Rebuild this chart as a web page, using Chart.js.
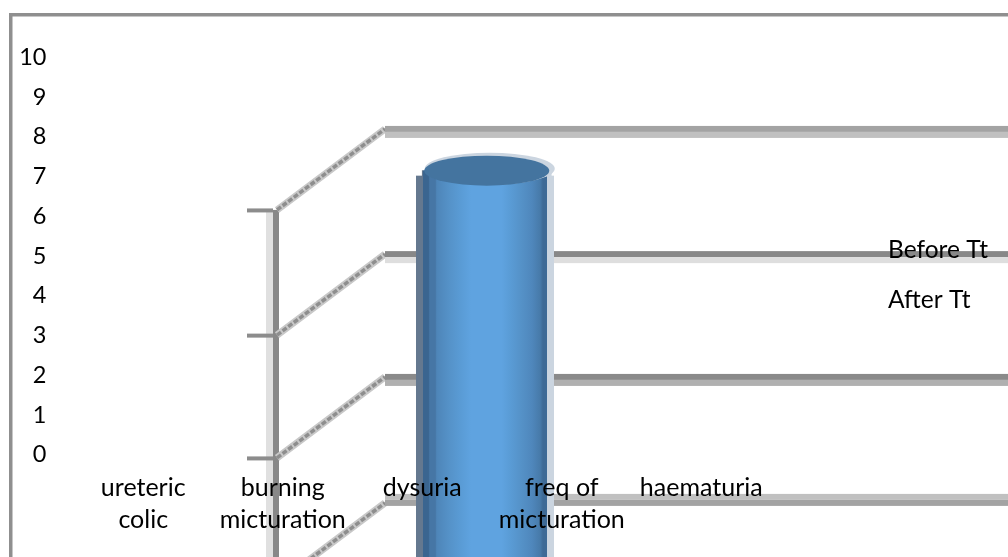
<!DOCTYPE html>
<html>
<head>
<meta charset="utf-8">
<style>html,body{margin:0;padding:0;background:#fff;overflow:hidden}canvas{display:block}</style>
<script src="https://cdn.jsdelivr.net/npm/chart.js@4/dist/chart.umd.min.js"></script>
</head>
<body>
<canvas id="c" width="1008" height="557"></canvas>
<script>
const categories = [["ureteric","colic"],["burning","micturation"],"dysuria",["freq of","micturation"],"haematuria"];
const beforeTt = [null,null,null,null,null];
const afterTt = [null,null,7.15,null,null];
const yTicks = [0,1,2,3,4,5,6,7,8,9,10];
const wallGridValues = [8.2,5.05,1.96,-1.21];

const FONT = 'Lato';
const gridStyles = [
  {dark:'#A3A3A3',pale:'#C0C0C0',paleOff:1},
  {dark:'#888888',pale:'#DEDEDE',paleOff:1},
  {dark:'#8A8A8A',pale:'#B0B0B0',paleOff:1},
  {dark:'#A3A3A3',pale:'#C0C0C0',paleOff:-1}
];
function cylGradient(ctx){
  const g = ctx.createLinearGradient(416,0,554,0);
  const stops = [[0,'#64788F'],[.05,'#64788F'],[.051,'#3A6590'],[.09,'#3A6590'],[.10,'#4676A5'],[.14,'#4676A5'],
    [.15,'#4E85B8'],[.24,'#5592C8'],[.33,'#5A9CD6'],[.40,'#5FA3E0'],[.62,'#5FA3E0'],[.68,'#5A9CD6'],[.76,'#5592C8'],
    [.84,'#4F87BC'],[.90,'#477AA9'],[.92,'#3E6A96'],[.95,'#3E6A96'],[.951,'#CBD5E0'],[1,'#CBD5E0']];
  stops.forEach(s=>g.addColorStop(s[0],s[1]));
  return g;
}
const scene = {
  id:'scene',
  beforeDatasetsDraw(chart){
    const c = chart.ctx, y = chart.scales.y, H = chart.height, W = chart.width;
    c.save();
    const topFront = y.getPixelForValue(wallGridValues[0]) + 81;
    c.fillStyle='#E0E0E0'; c.fillRect(266,topFront,7,H-topFront);
    c.fillStyle='#888888'; c.fillRect(273,topFront,6,H-topFront);
    wallGridValues.forEach((v,i)=>{
      const py = y.getPixelForValue(v), s = gridStyles[i];
      const fy = py + 81;
      c.lineCap='butt';
      c.strokeStyle='#C8C8C8'; c.lineWidth=7;
      c.beginPath(); c.moveTo(277,fy); c.lineTo(385,py); c.stroke();
      c.strokeStyle='#8E8E8E'; c.lineWidth=3.5;
      c.setLineDash([5,2]);
      c.beginPath(); c.moveTo(277,fy); c.lineTo(385,py); c.stroke();
      c.setLineDash([]);
      c.fillStyle='#8C8C8C'; c.fillRect(247,fy-1.5,26,4);
      c.fillStyle=s.dark; c.fillRect(385,py-3,W-385,6);
      c.fillStyle=s.pale; c.fillRect(385,s.paleOff>0?py+3:py-9,W-385,6);
    });
    const bar = chart.getDatasetMeta(1).data[2];
    c.fillStyle = cylGradient(c);
    c.fillRect(416,bar.y+5,138,H-bar.y);
    c.restore();
  },
  afterDatasetsDraw(chart){
    const c = chart.ctx;
    const bar = chart.getDatasetMeta(1).data[2];
    c.save();
    c.fillStyle='#CBD5E0';
    c.beginPath(); c.ellipse(bar.x+3,bar.y-2,65,16,0,0,Math.PI*2); c.fill();
    c.fillStyle='#44749F';
    c.beginPath(); c.ellipse(bar.x,bar.y,62.5,15,0,0,Math.PI*2); c.fill();
    c.restore();
  },
  afterDraw(chart){
    const c = chart.ctx;
    c.save();
    c.fillStyle='#8F8F8F';
    c.fillRect(9,13,chart.width-9,3.5);
    c.fillRect(9,13,3.5,chart.height-13);
    c.fillStyle='#000';
    c.font='24.5px '+FONT;
    c.textBaseline='middle'; c.textAlign='left';
    c.fillText(chart.data.datasets[0].label,888,250);
    c.fillText(chart.data.datasets[1].label,888,300);
    c.restore();
  }
};
new Chart(document.getElementById('c'),{
  type:'bar',
  plugins:[scene],
  data:{
    labels:categories,
    datasets:[
      {label:'Before Tt',data:beforeTt,backgroundColor:'#5FA3E0',barThickness:129,base:-3,clip:false},
      {label:'After Tt',data:afterTt,backgroundColor:ctx=>cylGradient(ctx.chart.ctx),barThickness:129,base:-3,clip:false}
    ]
  },
  options:{
    responsive:false,animation:false,
    layout:{padding:{left:0,right:237,top:0,bottom:0}},
    plugins:{legend:{display:false},tooltip:{enabled:false},title:{display:false}},
    scales:{
      y:{
        type:'linear',min:-1.537,max:10.41,
        afterBuildTicks(s){s.ticks=yTicks.map(v=>({value:v}));},
        afterFit(s){s.width=73.5;},
        grid:{display:false,drawTicks:false},border:{display:false},
        ticks:{padding:27,color:'#000',font:{family:FONT,size:23.5},callback:v=>String(v)}
      },
      x:{
        type:'category',position:{y:-0.43},
        grid:{display:false,drawTicks:false},border:{display:false},
        ticks:{z:1,padding:0,color:'#000',autoSkip:false,maxRotation:0,minRotation:0,font:{family:FONT,size:25,lineHeight:1.28}}
      }
    }
  }
});
</script>
</body>
</html>
